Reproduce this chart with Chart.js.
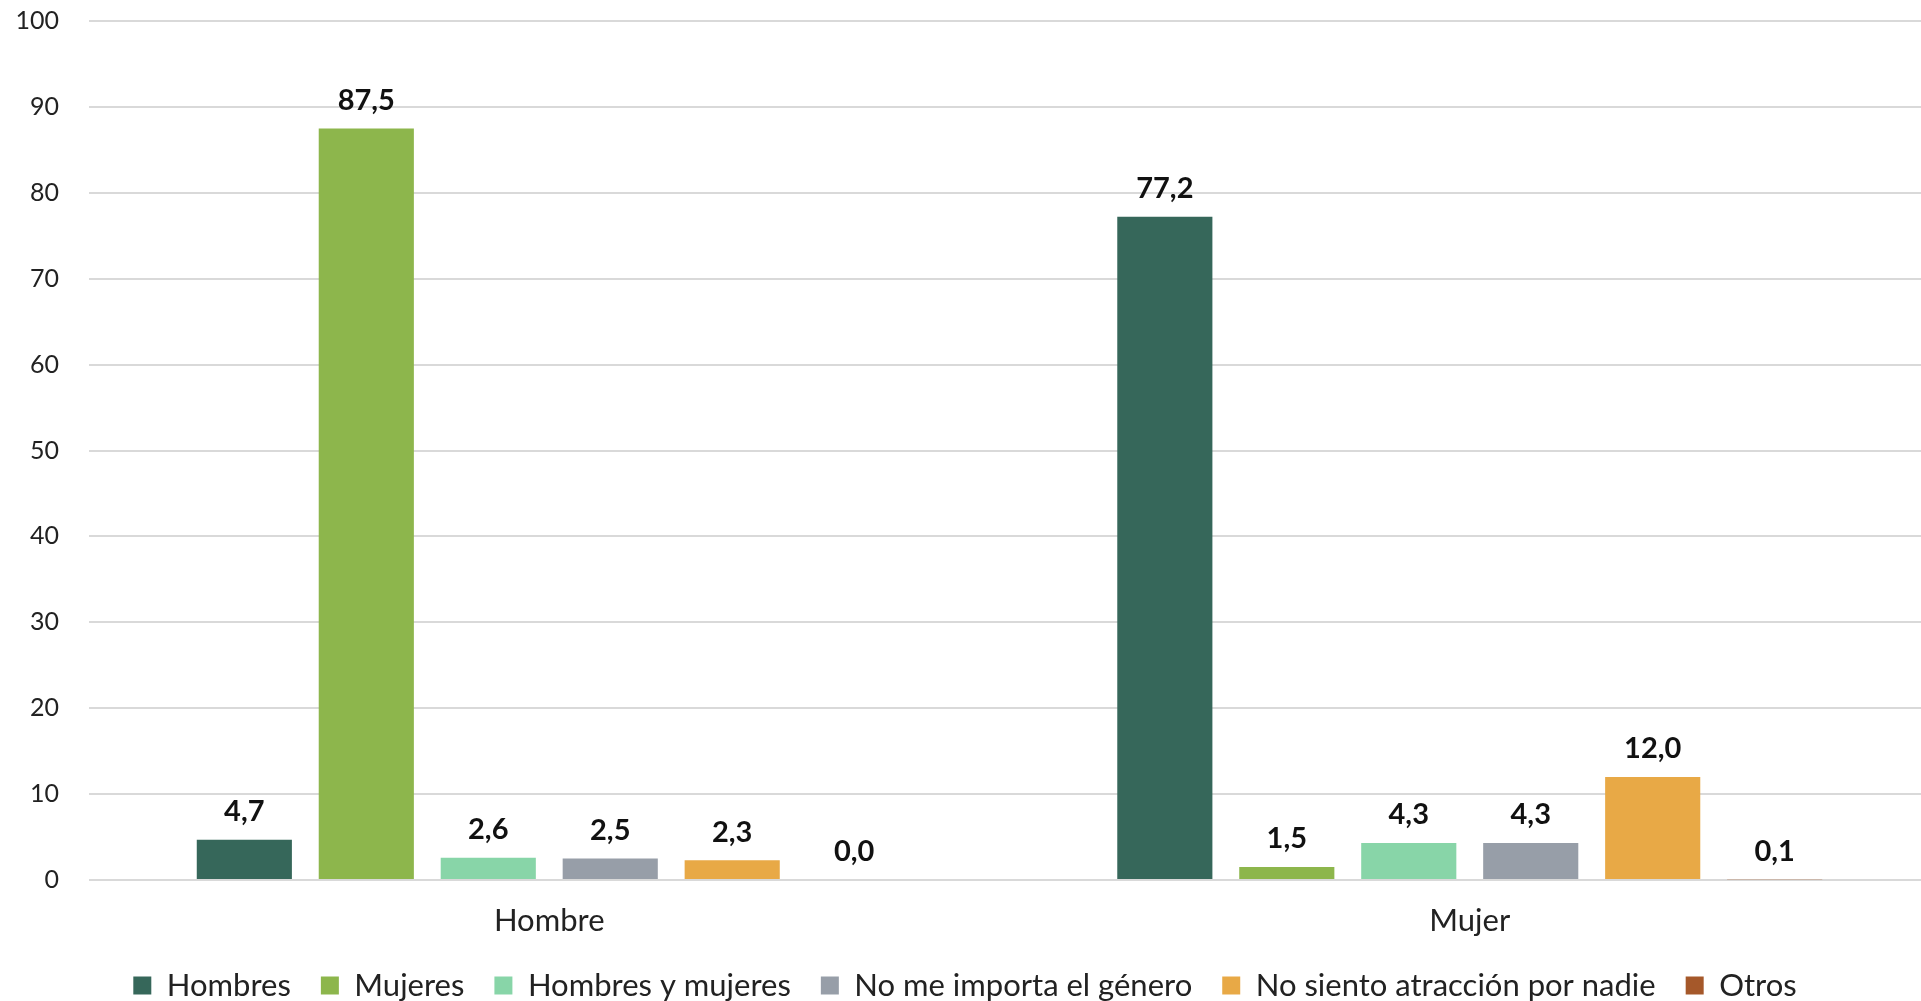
<!DOCTYPE html>
<html>
<head>
<meta charset="utf-8">
<script src="https://cdn.jsdelivr.net/npm/chart.js@4"></script>
<style>
  body { margin: 0; background: #fff; overflow: hidden; }
</style>
</head>
<body>
<canvas id="bar-chart" width="1930" height="1001"></canvas>
<script>
var categories = ['Hombre', 'Mujer'];
var seriesNames = ['Hombres', 'Mujeres', 'Hombres y mujeres', 'No me importa el género', 'No siento atracción por nadie', 'Otros'];
var hombres = [4.7, 77.2];
var mujeres = [87.5, 1.5];
var ambos = [2.6, 4.3];
var noImporta = [2.5, 4.3];
var nadie = [2.3, 12.0];
var otros = [0.0, 0.1];
var yTicks = [0, 10, 20, 30, 40, 50, 60, 70, 80, 90, 100];

var colors = ['#36675a', '#8db64c', '#88d5a8', '#979ea8', '#e8a946', '#a5582a'];
var values = [hombres, mujeres, ambos, noImporta, nadie, otros];

var fontName = 'Lato, "Open Sans", sans-serif';

// numbers above each bar, comma decimal
var valueLabels = {
    id: 'valueLabels',
    afterDatasetsDraw: function (chart) {
        var ctx = chart.ctx;
        ctx.save();
        ctx.font = 'bold 29px ' + fontName;
        ctx.fillStyle = '#111';
        ctx.textAlign = 'center';
        ctx.textBaseline = 'middle';
        chart.data.datasets.forEach(function (ds, i) {
            chart.getDatasetMeta(i).data.forEach(function (bar, j) {
                ctx.fillText(ds.data[j].toFixed(1).replace('.', ','), bar.x, bar.y - 28);
            });
        });
        ctx.restore();
    }
};

var datasets = seriesNames.map(function (name, i) {
    return {
        label: name,
        data: values[i],
        backgroundColor: colors[i],
        borderWidth: 0,
        categoryPercentage: 0.795,
        barPercentage: 0.78
    };
});

var option = {
    responsive: false,
    animation: false,
    layout: {
        padding: { top: 0, bottom: -10, left: 0, right: 0 }
    },
    scales: {
        x: {
            grid: { display: false, drawTicks: false },
            border: { display: false },
            ticks: {
                padding: 22,
                color: '#222',
                font: { family: fontName, size: 31 }
            },
            afterFit: function (scale) { scale.height = 60; }
        },
        y: {
            min: 0,
            max: 100,
            afterBuildTicks: function (scale) {
                scale.ticks = yTicks.map(function (v) { return { value: v }; });
            },
            grid: { color: '#d9d9d9', lineWidth: 2, drawTicks: false },
            border: { display: false },
            ticks: {
                padding: 30,
                color: '#222',
                font: { family: fontName, size: 25 }
            },
            afterFit: function (scale) {
                scale.width = 89;
                scale.paddingTop = 21;
                scale.paddingBottom = 0;
            }
        }
    },
    plugins: {
        legend: {
            position: 'bottom',
            labels: {
                boxWidth: 18,
                boxHeight: 18,
                padding: 30,
                color: '#222',
                font: { family: fontName, size: 31 }
            }
        },
        tooltip: { enabled: false }
    }
};

var tempGraph = new Chart(document.getElementById('bar-chart'), {
    type: 'bar',
    data: { labels: categories, datasets: datasets },
    options: option,
    plugins: [valueLabels]
});
</script>
</body>
</html>
